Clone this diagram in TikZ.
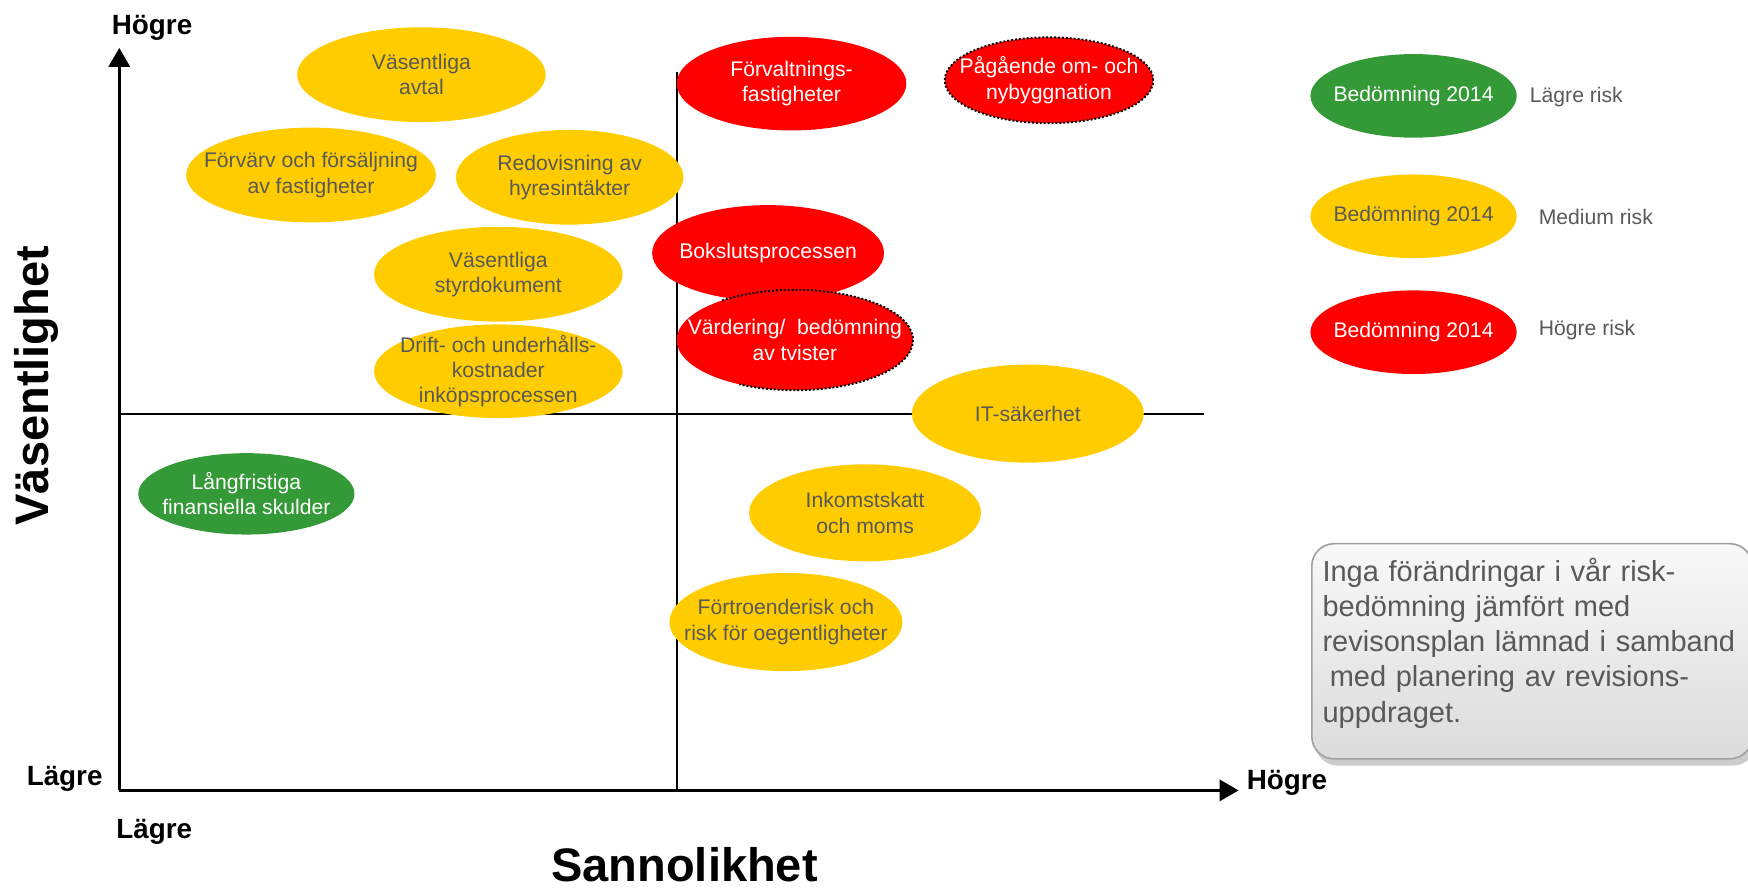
\documentclass[tikz,border=0pt]{standalone}
\usepackage{fontspec}
\setmainfont{Liberation Sans}
\usetikzlibrary{
	arrows.meta,
	shadows,
	shapes.geometric,
}
\definecolor{riskgul}{RGB}{255,204,0}
\definecolor{riskrod}{RGB}{255,0,0}
\definecolor{riskgron}{RGB}{52,154,55}
\definecolor{textgra}{RGB}{89,89,89}

\begin{document}
\begin{tikzpicture}[x=0.2mm, y=-0.2mm,
	every node/.style={font=\fontsize{10.8}{12.9}\selectfont},
	oval/.style={ellipse, inner sep=0pt},
	gul/.style={oval, fill=riskgul},
	rod/.style={oval, fill=riskrod},
	gron/.style={oval, fill=riskgron},
	fritext/.style={inner sep=0pt, text=textgra},
	axeltext/.style={inner sep=0pt, font=\fontsize{14.2}{17}\selectfont\bfseries},
	axeltitel/.style={inner sep=0pt, font=\fontsize{24}{28}\selectfont\bfseries},
	axel/.style={line width=1.4pt, -{Triangle[length=3.4mm, width=3.8mm]}},
	gultext/.style={align=center, text=textgra},
	vittext/.style={align=center, text=white},
	prickad/.style={draw=black, densely dotted, line width=1pt},
]
	\useasboundingbox (0,0) rectangle (1568,798);

	% 坐标轴
	\coordinate (origo) at (107,709);
	\coordinate (ytopp) at (107,43);
	\coordinate (xslut) at (1111,709);
	\draw[axel] (origo) -- (ytopp);
	\draw[axel] (origo) -- (xslut);

	% 中间的分隔线
	\coordinate (mitt-n) at (607,65);
	\coordinate (mitt-s) at (607,709);
	\coordinate (mitt-v) at (107,371);
	\coordinate (mitt-o) at (1080,371);
	\draw[line width=1.1pt] (mitt-n) -- (mitt-s);
	\draw[line width=1.1pt] (mitt-v) -- (mitt-o);

	% 轴的文字
	\node[axeltext, anchor=west] (y-hog) at (100,25) {Högre};
	\node[axeltext] (y-lag) at (58,699) {Lägre};
	\node[axeltext, anchor=west] (x-lag) at (104,746) {Lägre};
	\node[axeltext, anchor=west] (x-hog) at (1118,702) {Högre};
	\node[axeltitel, rotate=90] (y-titel) at (33,346) {Väsentlighet};
	\node[axeltitel] (x-titel) at (614,776) {Sannolikhet};

	% 黄色椭圆(中等风险)
	\node[gul, minimum width=44.6mm, minimum height=17mm,
		label={[gultext]center:Väsentliga\\avtal}] (avtal) at (378,67) {};
	\node[gul, minimum width=44.8mm, minimum height=17mm,
		label={[gultext]center:Förvärv och försäljning\\av fastigheter}] (forvarv) at (279,157) {};
	\node[gul, minimum width=40.8mm, minimum height=17mm,
		label={[gultext]center:Redovisning av\\hyresintäkter}] (redovisning) at (511,159) {};
	\node[gul, minimum width=44.6mm, minimum height=17mm,
		label={[gultext]center:Väsentliga\\styrdokument}] (styrdok) at (447,246) {};
	\node[gul, minimum width=44.6mm, minimum height=16.8mm,
		label={[gultext]center:Drift- och underhålls-\\kostnader\\inköpsprocessen}] (drift) at (447,333) {};
	\node[gul, minimum width=41.6mm, minimum height=17.6mm,
		label={[gultext]center:IT-säkerhet}] (itsak) at (922,371) {};
	\node[gul, minimum width=41.6mm, minimum height=17.4mm,
		label={[gultext]center:Inkomstskatt\\och moms}] (skatt) at (776,460) {};
	\node[gul, minimum width=41.8mm, minimum height=17.6mm,
		label={[gultext]center:Förtroenderisk och\\risk för oegentligheter}] (fortroende) at (705,558) {};

	% 红色椭圆(高风险)
	\node[rod, minimum width=41.2mm, minimum height=16.8mm,
		label={[vittext]center:Förvaltnings-\\fastigheter}] (forvaltning) at (710,75) {};
	\node[rod, prickad, minimum width=37.4mm, minimum height=15.4mm,
		label={[vittext]center:Pågående om- och\\nybyggnation}] (pagaende) at (941,72) {};
	\node[rod, minimum width=41.6mm, minimum height=17.2mm,
		label={[vittext]center:Bokslutsprocessen}] (bokslut) at (689,227) {};
	\node[rod, minimum width=42.4mm, minimum height=18mm,
		label={[vittext]center:Värdering/\ \ bedömning\\av tvister}] (vardering) at (713,305) {};
	% 只有右边是虚线
	\draw[prickad] (vardering.center) ++(128:21.2mm and 9mm)
		arc[start angle=128, end angle=-118, x radius=21.2mm, y radius=9mm];

	% 绿色椭圆(低风险)
	\node[gron, minimum width=38.8mm, minimum height=14.6mm,
		label={[vittext]center:Långfristiga\\finansiella skulder}] (langfristiga) at (221,443) {};

	% 图例
	\node[gron, minimum width=37mm, minimum height=15mm,
		label={[vittext]center:Bedömning 2014}] (leg-lag) at (1268,86) {};
	\node[gul, minimum width=37mm, minimum height=15mm,
		label={[gultext]center:Bedömning 2014}] (leg-medel) at (1268,194) {};
	\node[rod, minimum width=37mm, minimum height=15mm,
		label={[vittext]center:Bedömning 2014}] (leg-hog) at (1268,298) {};
	\node[fritext, anchor=west] (txt-lag) at (1372,87) {Lägre risk};
	\node[fritext, anchor=west] (txt-medel) at (1380,195) {Medium risk};
	\node[fritext, anchor=west] (txt-hog) at (1380,296) {Högre risk};

	% 右下角的说明框
	\node[draw=gray!75, line width=0.8pt, rounded corners=4mm,
		top color=gray!5, bottom color=gray!28,
		drop shadow={shadow xshift=0.6mm, shadow yshift=-1.2mm, opacity=0.4},
		minimum width=79mm, minimum height=38.6mm, anchor=north west] (ram) at (1176,487) {};
	\node[inner sep=0pt, text width=77mm, align=left, text=textgra,
		font=\fontsize{14.8}{18}\selectfont, anchor=north west] (kommentar) at (1186,500)
		{Inga förändringar i vår risk-\\bedömning jämfört med\\revisonsplan lämnad i samband\\\hspace*{0.25em}med planering av revisions-\\uppdraget.};

\end{tikzpicture}
\end{document}
